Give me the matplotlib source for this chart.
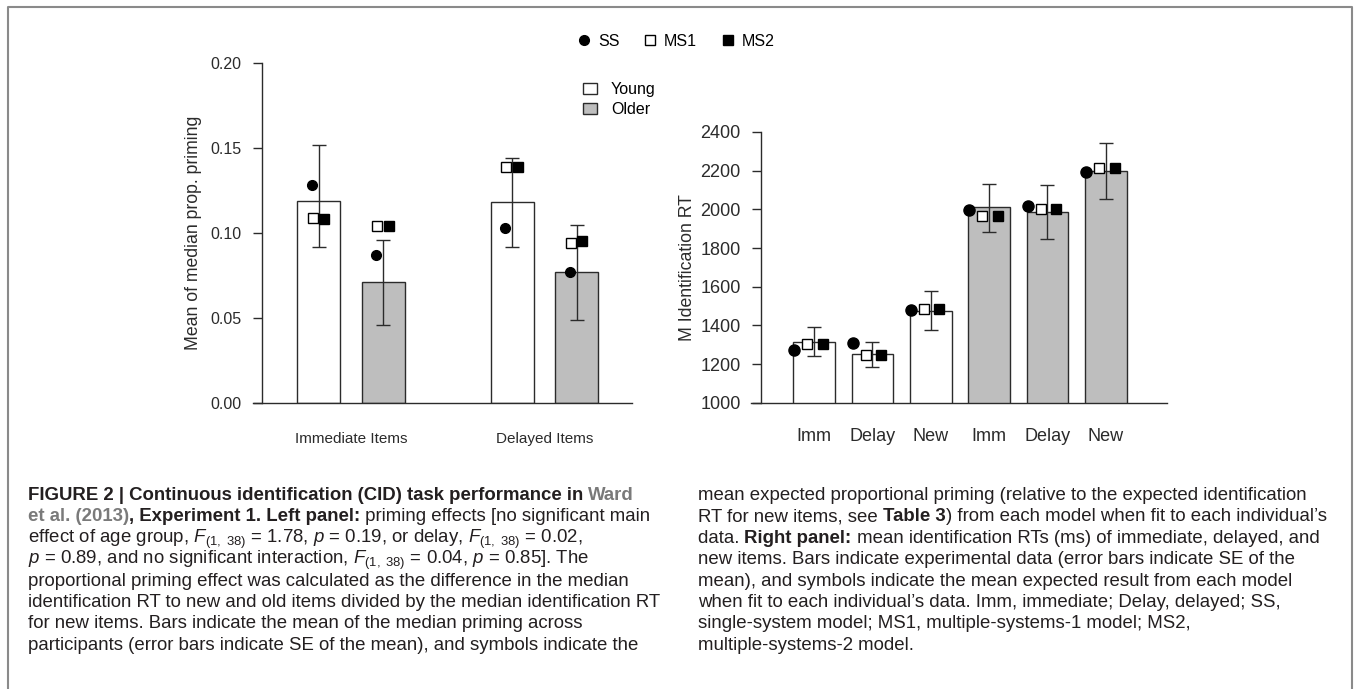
import matplotlib
matplotlib.use("Agg")
import matplotlib.pyplot as plt
from matplotlib.lines import Line2D
from matplotlib.patches import Patch
import numpy as np

plt.rcParams['font.family'] = ['Liberation Sans', 'DejaVu Sans']
plt.rcParams['mathtext.fontset'] = 'custom'
plt.rcParams['mathtext.rm'] = 'Liberation Sans'
plt.rcParams['mathtext.it'] = 'Liberation Sans:italic'
plt.rcParams['mathtext.bf'] = 'Liberation Sans:bold'

# left panel: proportional priming
left_groups = ["Immediate Items", "Delayed Items"]
left_bar = [0.119, 0.071, 0.118, 0.077]
left_lo = [0.092, 0.046, 0.092, 0.049]
left_hi = [0.152, 0.096, 0.144, 0.105]
left_ss = [0.128, 0.087, 0.103, 0.077]
left_ms1 = [0.109, 0.104, 0.139, 0.094]
left_ms2 = [0.108, 0.104, 0.139, 0.095]
left_ticks = [0.00, 0.05, 0.10, 0.15, 0.20]

# right panel: identification RT
right_labels = ["Imm", "Delay", "New", "Imm", "Delay", "New"]
right_bar = [1312, 1252, 1473, 2011, 1986, 2199]
right_lo = [1241, 1186, 1376, 1881, 1848, 2055]
right_hi = [1391, 1316, 1578, 2133, 2126, 2342]
right_ss = [1272, 1307, 1478, 1997, 2017, 2195]
right_ms1 = [1303, 1248, 1484, 1967, 2002, 2216]
right_ms2 = [1303, 1248, 1484, 1967, 2002, 2216]
right_ticks = [1000, 1200, 1400, 1600, 1800, 2000, 2200, 2400]

GRAY = "#bebebe"
INK = "#2b2b2b"

fig = plt.figure(figsize=(13.57, 6.89), dpi=100)
W, H = 1357, 689


def px_axes(x0, x1, y0, y1):
    return fig.add_axes([x0 / W, 1 - y1 / H, (x1 - x0) / W, (y1 - y0) / H])


def style_axes(ax, spine_x, lo, hi, ysize):
    for s in ["top", "right"]:
        ax.spines[s].set_visible(False)
    ax.spines["left"].set_position(("data", spine_x))
    ax.spines["left"].set_bounds(lo, hi)
    for s in ["left", "bottom"]:
        ax.spines[s].set_color(INK)
        ax.spines[s].set_linewidth(1.0)
    ax.tick_params(axis="y", length=6.5, width=1.0, color=INK, pad=8,
                   labelsize=ysize, labelcolor=INK)


def draw_bars(ax, pos, vals, lo, hi, colors, offs, ss, ms1, ms2, ms_dot, ms_sq):
    pos = np.array(pos, dtype=float)
    vals = np.array(vals)
    ax.bar(pos, vals, width=1.0, color=colors, edgecolor=INK, linewidth=1.0, zorder=2)
    yerr = [vals - np.array(lo), np.array(hi) - vals]
    ax.errorbar(pos, vals, yerr=yerr, fmt="none", ecolor=INK, elinewidth=1.0,
                capsize=5, capthick=1.0, zorder=3)
    ax.plot(pos + offs[0], ss, "o", color="black", ms=ms_dot, ls="none", zorder=4)
    ax.plot(pos + offs[1], ms1, "s", mfc="white", mec="black", mew=1.0, ms=ms_sq,
            ls="none", zorder=4)
    ax.plot(pos + offs[2], ms2, "s", color="black", ms=ms_sq, ls="none", zorder=4)


# ---- left panel
axL = px_axes(253, 632, 63.3, 402.7)
posL = [0, 1.5, 4.5, 6.0]
draw_bars(axL, posL, left_bar, left_lo, left_hi, ["white", GRAY, "white", GRAY],
          (-0.16, -0.14, 0.13), left_ss, left_ms1, left_ms2, 7, 6.5)
axL.set_xlim(-1.531, 7.283)
axL.set_ylim(0, 0.2)
style_axes(axL, -1.329, 0, 0.2, 11.5)
axL.set_yticks(left_ticks)
axL.set_yticklabels(["%.2f" % t for t in left_ticks])
axL.set_xticks([0.75, 5.25])
axL.set_xticklabels(left_groups)
axL.tick_params(axis="x", length=0, pad=21, labelsize=11, labelcolor=INK)
axL.set_ylabel("Mean of median prop. priming", fontsize=12.7, color=INK, labelpad=6)
axL.legend(handles=[Patch(facecolor="white", edgecolor=INK, lw=1.0),
                    Patch(facecolor=GRAY, edgecolor=INK, lw=1.0)],
           labels=["Young", "Older"], loc="upper left",
           bbox_to_anchor=(583 / W, 1 - 82 / H), bbox_transform=fig.transFigure,
           frameon=False, fontsize=11.5, handlelength=0.85, handleheight=0.7,
           handletextpad=0.9, labelspacing=0.3, borderpad=0, borderaxespad=0)

# ---- right panel
axR = px_axes(751, 1167.3, 132, 402.7)
posR = [i * 1.4 for i in range(6)]
draw_bars(axR, posR, right_bar, right_lo, right_hi, ["white"] * 3 + [GRAY] * 3,
          (-0.47, -0.16, 0.21), right_ss, right_ms1, right_ms2, 8, 7)
axR.set_xlim(-1.511, 8.475)
axR.set_ylim(1000, 2400)
style_axes(axR, -1.271, 1000, 2400, 13)
axR.set_yticks(right_ticks)
axR.set_xticks(posR)
axR.set_xticklabels(right_labels)
axR.tick_params(axis="x", length=0, pad=18, labelsize=13, labelcolor=INK)
axR.set_ylabel("M Identification RT", fontsize=12.7, color=INK, labelpad=3)

# ---- model legend on top
mh = [Line2D([], [], marker="o", color="black", ls="none", ms=7),
      Line2D([], [], marker="s", mfc="white", mec="black", ls="none", ms=6.5),
      Line2D([], [], marker="s", color="black", ls="none", ms=6.5)]
fig.legend(handles=mh, labels=["SS", "MS1", "MS2"], loc="center", ncol=3,
           bbox_to_anchor=(676 / W, 1 - 41 / H), frameon=False, fontsize=11.5,
           handlelength=0.8, handletextpad=0.5, columnspacing=1.5, borderpad=0)

# ---- frame
fig.add_artist(Line2D([8 / W, 8 / W, 1352 / W, 1352 / W],
                      [0, 1 - 7 / H, 1 - 7 / H, 0], transform=fig.transFigure,
                      color="#8a8a8a", lw=1.5))

# ---- caption
CAP = 13.4
TXT = "#231f20"
WARD = "#7a7a7a"
renderer = fig.canvas.get_renderer()


def put_line(x, y, parts):
    x = x / W
    yy = 1 - y / H
    for s, w, c in parts:
        fig.text(x, yy, s, fontsize=CAP, fontweight=w, color=c, va="baseline")
        probe = fig.text(0, 0, s + "|", fontsize=CAP, fontweight=w)
        bar = fig.text(0, 0, "|", fontsize=CAP, fontweight=w)
        dx = probe.get_window_extent(renderer).width - bar.get_window_extent(renderer).width
        probe.remove()
        bar.remove()
        x += dx / W


F = r"$F_{\mathrm{(1,\ 38)}}$"
left_lines = [
    [("FIGURE 2 | Continuous identification (CID) task performance in ", "bold", TXT),
     ("Ward", "bold", WARD)],
    [("et al. (2013)", "bold", WARD), (", Experiment 1. Left panel:", "bold", TXT),
     (" priming effects [no significant main", "normal", TXT)],
    [("effect of age group, " + F + r" = 1.78, $p$ = 0.19, or delay, " + F + " = 0.02,",
      "normal", TXT)],
    [(r"$p$ = 0.89, and no significant interaction, " + F + r" = 0.04, $p$ = 0.85]. The",
      "normal", TXT)],
    [("proportional priming effect was calculated as the difference in the median",
      "normal", TXT)],
    [("identification RT to new and old items divided by the median identification RT",
      "normal", TXT)],
    [("for new items. Bars indicate the mean of the median priming across", "normal", TXT)],
    [("participants (error bars indicate SE of the mean), and symbols indicate the",
      "normal", TXT)],
]
right_lines = [
    [("mean expected proportional priming (relative to the expected identification",
      "normal", TXT)],
    [("RT for new items, see ", "normal", TXT), ("Table 3", "bold", TXT),
     (") from each model when fit to each individual\u2019s", "normal", TXT)],
    [("data. ", "normal", TXT), ("Right panel:", "bold", TXT),
     (" mean identification RTs (ms) of immediate, delayed, and", "normal", TXT)],
    [("new items. Bars indicate experimental data (error bars indicate SE of the",
      "normal", TXT)],
    [("mean), and symbols indicate the mean expected result from each model",
      "normal", TXT)],
    [("when fit to each individual\u2019s data. Imm, immediate; Delay, delayed; SS,",
      "normal", TXT)],
    [("single-system model; MS1, multiple-systems-1 model; MS2,", "normal", TXT)],
    [("multiple-systems-2 model.", "normal", TXT)],
]
for i, parts in enumerate(left_lines):
    put_line(28, 500 + 21.4 * i, parts)
for i, parts in enumerate(right_lines):
    put_line(698, 500 + 21.4 * i, parts)

fig.savefig("out.png", dpi=100)
